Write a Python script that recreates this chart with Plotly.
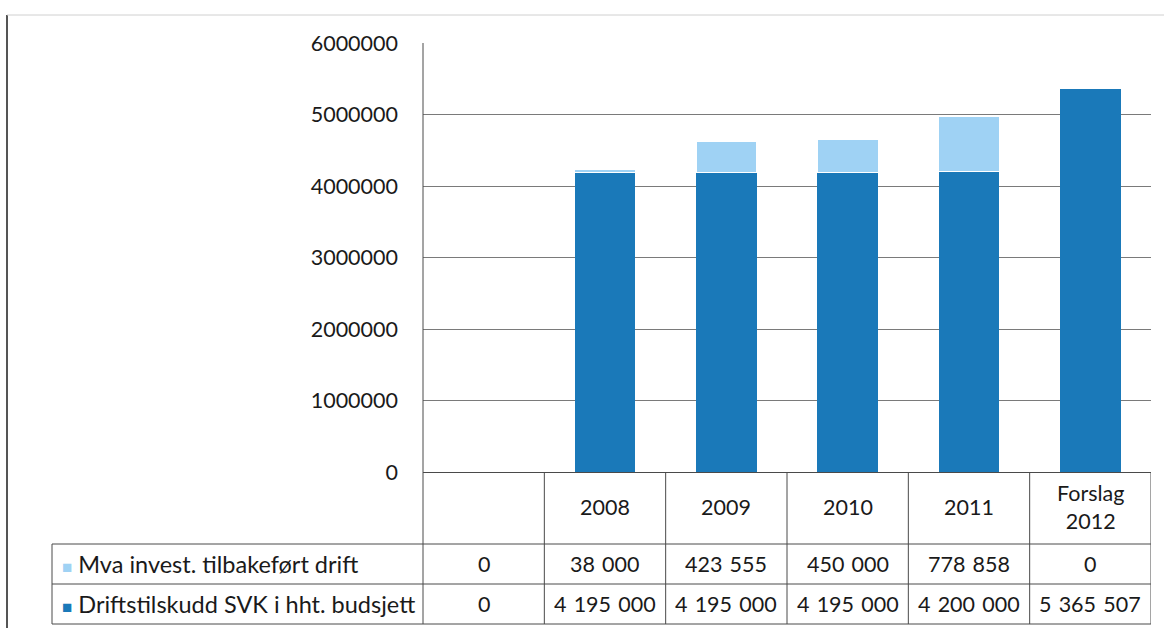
import plotly.graph_objects as go

categories = ["", "2008", "2009", "2010", "2011", "Forslag<br>2012"]
series_names = ["Mva invest. tilbakeført drift", "Driftstilskudd SVK i hht. budsjett"]
mva = [0, 38000, 423555, 450000, 778858, 0]
drift = [0, 4195000, 4195000, 4195000, 4200000, 5365507]
ytick_vals = [0, 1000000, 2000000, 3000000, 4000000, 5000000, 6000000]

DARK = "#1a79b9"
LIGHT = "#9fd2f4"
LINE = "#4a4a4a"
TXT = "#1a1a1a"
FONT = "Lato, 'Open Sans', sans-serif"

W, H = 1164, 628
PX0, PX1 = 423, 1151      # plot area x (px)
PY_TOP, PY_BOT = 43, 624  # paper y span (px)
PLOT_BOTTOM = 472         # bottom of bar area (px)
ROW1, ROW2 = 544, 584     # table row separators (px)

def px_x(x):
    return (x - PX0) / (PX1 - PX0)

def px_y(y):
    return (PY_BOT - y) / (PY_BOT - PY_TOP)

x = list(range(len(categories)))

fig = go.Figure()
fig.add_trace(go.Bar(x=x, y=drift, name=series_names[1], marker=dict(color=DARK, line=dict(width=0)), width=0.5))
fig.add_trace(go.Bar(x=x, y=mva, name=series_names[0], marker=dict(color=LIGHT, line=dict(color="white", width=1)), width=0.5))

shapes = []
def line(x0, y0, x1, y1, xref="paper", color=LINE, width=1):
    shapes.append(dict(type="line", xref=xref, yref="paper", x0=x0, x1=x1, y0=y0, y1=y1,
                       line=dict(color=color, width=width), layer="above"))

n = len(categories)
# table horizontal lines
for yy in (ROW1, ROW2, PY_BOT):
    line(px_x(52), px_y(yy), 1, px_y(yy))
# vertical lines
line(px_x(52), px_y(ROW1), px_x(52), px_y(PY_BOT))
for i in range(1, n + 1):
    line(i - 0.5, px_y(PLOT_BOTTOM), i - 0.5, px_y(PY_BOT), xref="x")
# left axis line through table
line(0, 1, 0, px_y(PY_BOT))
# page frame
line(px_x(7), px_y(15), px_x(7), px_y(640), color="#555", width=2)
line(px_x(7), px_y(15), px_x(1170), px_y(15), color="#d0d0d0", width=1)

annotations = []
NUM_FS = 21.5
LBL_FS = 23.5
for i, c in enumerate(categories):
    annotations.append(dict(x=i, y=px_y(507), xref="x", yref="paper", text=c, showarrow=False,
                            xanchor="center", yanchor="middle",
                            font=dict(size=NUM_FS, color=TXT, family=FONT)))

def fmt(v):
    return f"{v:,}".replace(",", "\u2004")

for i in range(n):
    annotations.append(dict(x=i, y=px_y((ROW1 + ROW2) / 2), xref="x", yref="paper", text=fmt(mva[i]),
                            xanchor="center", yanchor="middle",
                            showarrow=False, font=dict(size=NUM_FS, color=TXT, family=FONT)))
    annotations.append(dict(x=i, y=px_y((ROW2 + PY_BOT) / 2), xref="x", yref="paper", text=fmt(drift[i]),
                            xanchor="center", yanchor="middle",
                            showarrow=False, font=dict(size=NUM_FS, color=TXT, family=FONT)))
for name, color, yc in [(series_names[0], LIGHT, (ROW1 + ROW2) / 2), (series_names[1], DARK, (ROW2 + PY_BOT) / 2)]:
    annotations.append(dict(x=px_x(60), y=px_y(yc), xref="paper", yref="paper", xanchor="left",
                            yanchor="middle",
                            text=f"<span style='color:{color};font-size:17px'>■</span> {name}",
                            showarrow=False, font=dict(size=LBL_FS, color=TXT, family=FONT)))

fig.update_layout(
    width=W, height=H,
    barmode="stack",
    showlegend=False,
    plot_bgcolor="white", paper_bgcolor="white",
    margin=dict(l=PX0, r=W - PX1, t=PY_TOP, b=H - PY_BOT, autoexpand=False),
    font=dict(family=FONT, color=TXT, size=NUM_FS),
    xaxis=dict(range=[-0.5, n - 0.5], showticklabels=False, showgrid=False, zeroline=False,
               showline=False, fixedrange=True, automargin=False),
    yaxis=dict(domain=[px_y(PLOT_BOTTOM), 1], range=[0, 6000000], tickvals=ytick_vals,
               tickformat="d", showgrid=True, gridcolor="#7a7a7a", gridwidth=1,
               zeroline=True, zerolinecolor=LINE, zerolinewidth=1,
               showline=False, ticks="", ticklabelstandoff=24, automargin=False,
               tickfont=dict(size=NUM_FS, color=TXT, family=FONT)),
    shapes=shapes,
    annotations=annotations,
)

fig.write_html("out.html", config={"displayModeBar": False},
               post_script="document.body.style.margin='0';document.body.style.overflow='hidden';")
